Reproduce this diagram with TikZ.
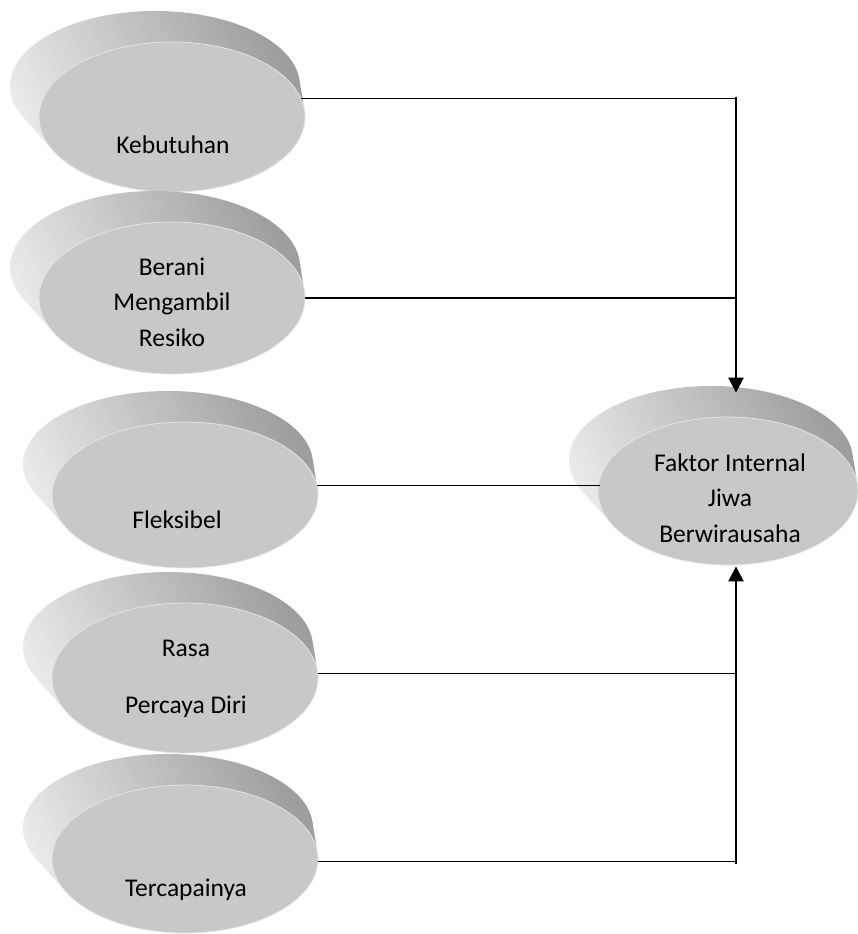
\documentclass[tikz,border=0pt]{standalone}
\usepackage{fontspec}
\setmainfont{Carlito}
\usetikzlibrary{shapes.geometric,arrows.meta}

\definecolor{facegray}{RGB}{200,200,200}
\definecolor{rimgray}{RGB}{228,228,228}
\definecolor{sidedark}{RGB}{158,158,158}
\definecolor{sidelight}{RGB}{234,234,234}

\tikzset{
  face/.style={ellipse, fill=facegray, draw=rimgray, line width=0.8pt,
               inner sep=0pt, minimum width=#1},
  face/.default=266pt,
  txt/.style={font=\fontsize{25.5}{35.5}\selectfont, align=center,
              inner sep=0pt, text=black},
  hline/.style={line width=1.3pt, black},
  vline/.style={line width=2.5pt, black},
  headline/.style={vline, -{Triangle[length=15pt,width=15pt]}},
}

% shaded back and side of an extruded disc whose front face is centred
% at (#1,#2) with half-axes #3 and #4 (the back sits up and to the left)
\newcommand\discside[4]{%
  \shade[top color=sidedark, bottom color=sidelight, shading angle=-65]
    foreach \t in {0,0.05,...,1} {
      ({#1-17*(1-\t)},{#2-31*(1-\t)})
        circle [x radius={(#3+12*(1-\t))*1pt}, y radius={#4*1pt}]
    };
}

\begin{document}
\begin{tikzpicture}[x=1pt,y=-1pt]
\useasboundingbox (0,0) rectangle (858,934);

% discs on the left
\discside{172}{117}{133}{75}
\node[face, minimum height=150pt] (k1) at (172,117) {};
\node[txt] (t1) at (173,145) {Kebutuhan};

\discside{172}{298}{133}{76}
\node[face, minimum height=152pt] (k2) at (172,298) {};
\node[txt] (t2) at (172,302) {Berani\\Mengambil\\Resiko};

\discside{185}{495}{133}{73}
\node[face, minimum height=146pt] (k3) at (185,495) {};
\node[txt] (t3) at (177,520) {Fleksibel};

\discside{185}{678}{133}{75}
\node[face, minimum height=150pt] (k4) at (185,678) {};
\node[txt] (t4a) at (186,648) {Rasa};
\node[txt] (t4b) at (186,707) {Percaya Diri};

\discside{185}{859}{133}{74}
\node[face, minimum height=148pt] (k5) at (185,859) {};
\node[txt] (t5) at (186,890) {Tercapainya};

% target disc on the right
\discside{728}{491}{130}{74}
\node[face=260pt, minimum height=148pt] (fk) at (728,491) {};
\node[txt] (tf) at (730,498) {Faktor Internal\\Jiwa\\Berwirausaha};

% collecting bus
\coordinate (busTop) at (736,96.5);
\coordinate (busBot) at (736,863.5);

\draw[hline] (k1.8) -- (k1.8 -| busTop);
\draw[hline] (k2.east) -- (k2.east -| busTop);
\draw[hline] (k3.4) -- (k3.4 -| fk.186);
\draw[hline] (k4.2) -- (k4.2 -| busTop);
\draw[hline] (k5.-1.5) -- (k5.-1.5 -| busTop);

\draw[headline, shorten >=24pt] (busTop) -- (busTop |- fk.north);
\draw[headline, shorten >=1pt] (busBot) -- (busBot |- fk.south);
\end{tikzpicture}
\end{document}
